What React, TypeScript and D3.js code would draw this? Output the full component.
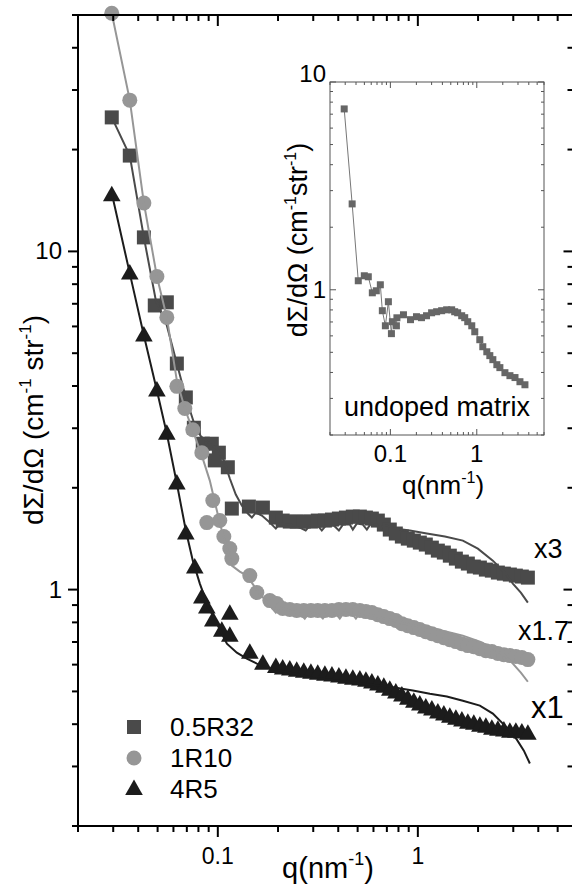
import React from 'react';
import * as d3 from 'd3';

const W = 572;
const H = 889;

// ---------- main plot data (q in nm^-1, dΣ/dΩ in cm^-1 str^-1, already scaled) ----------
const qLowA = [0.0295, 0.0363, 0.0427, 0.0484, 0.0556, 0.0624, 0.0692, 0.0759, 0.0841, 0.0933, 0.0966, 0.1012, 0.1122, 0.1175, 0.143, 0.168, 0.195];
const iLowA = [24.9, 19.2, 11.0, 6.92, 7.07, 4.66, 3.70, 3.01, 2.70, 2.70, 2.41, 2.54, 2.30, 1.736, 1.76, 1.748, 1.633];

const qLowB = [0.0295, 0.0363, 0.0427, 0.0496, 0.0556, 0.0624, 0.0684, 0.075, 0.0832, 0.0944, 0.0881, 0.1023, 0.1072, 0.1148, 0.1175, 0.1445, 0.1567, 0.182, 0.197];
const iLowB = [50.6, 28.0, 13.9, 8.43, 6.38, 3.99, 3.43, 2.97, 2.54, 1.834, 1.578, 1.60, 1.435, 1.322, 1.235, 1.10, 0.98, 0.928, 0.909];

const qLowC = [0.0295, 0.0363, 0.0427, 0.0496, 0.0556, 0.0624, 0.0692, 0.0767, 0.0832, 0.0881, 0.1148, 0.0944, 0.1047, 0.1148, 0.1445, 0.168, 0.195];
const iLowC = [14.65, 8.61, 5.64, 3.88, 2.89, 2.06, 1.465, 1.162, 0.947, 0.885, 0.849, 0.81, 0.756, 0.731, 0.651, 0.604, 0.59];

const qDense = [0.211, 0.229, 0.248, 0.269, 0.292, 0.316, 0.343, 0.372, 0.403, 0.437, 0.473, 0.513, 0.550, 0.589, 0.631, 0.676, 0.724, 0.776, 0.832, 0.891, 0.955, 1.023, 1.096, 1.175, 1.259, 1.349, 1.445, 1.549, 1.660, 1.778, 1.905, 2.042, 2.188, 2.344, 2.512, 2.692, 2.884, 3.090, 3.311, 3.548];
const iDenseA = [1.60, 1.589, 1.589, 1.589, 1.589, 1.60, 1.60, 1.611, 1.622, 1.633, 1.644, 1.644, 1.633, 1.622, 1.60, 1.557, 1.505, 1.465, 1.435, 1.415, 1.396, 1.377, 1.359, 1.331, 1.304, 1.287, 1.26, 1.235, 1.21, 1.194, 1.17, 1.162, 1.146, 1.138, 1.123, 1.115, 1.108, 1.10, 1.093, 1.085];
const iDenseB = [0.879, 0.873, 0.867, 0.867, 0.867, 0.867, 0.867, 0.867, 0.873, 0.873, 0.873, 0.867, 0.861, 0.855, 0.843, 0.832, 0.821, 0.810, 0.793, 0.782, 0.772, 0.762, 0.751, 0.741, 0.731, 0.721, 0.711, 0.702, 0.692, 0.683, 0.678, 0.669, 0.660, 0.656, 0.647, 0.642, 0.638, 0.634, 0.630, 0.621];
const iDenseC = [0.584, 0.580, 0.576, 0.572, 0.568, 0.564, 0.560, 0.557, 0.553, 0.549, 0.545, 0.542, 0.538, 0.531, 0.524, 0.516, 0.506, 0.496, 0.486, 0.476, 0.466, 0.457, 0.448, 0.442, 0.433, 0.427, 0.421, 0.415, 0.410, 0.404, 0.401, 0.396, 0.393, 0.388, 0.385, 0.383, 0.380, 0.380, 0.378, 0.375];

// fit curves
const qFitA = [0.0295, 0.0363, 0.0427, 0.049, 0.0556, 0.0624, 0.0692, 0.0759, 0.0822, 0.0912, 0.1, 0.1072, 0.1148, 0.123, 0.1318, 0.1413, 0.148, 0.155, 0.166, 0.182, 0.195, 0.204, 0.229, 0.257, 0.275, 0.288, 0.316, 0.331, 0.347, 0.38, 0.403, 0.422, 0.457, 0.473, 0.495, 0.531, 0.556, 0.582, 0.624, 0.646, 0.676, 0.767, 0.912, 1.109, 1.365, 1.679, 1.995, 2.371, 2.723, 2.985, 3.273, 3.548];
const iFitA = [24.9, 19.2, 11.0, 7.16, 6.04, 4.66, 3.70, 3.12, 2.84, 2.70, 2.595, 2.41, 2.13, 1.91, 1.772, 1.679, 1.633, 1.69, 1.656, 1.578, 1.515, 1.567, 1.557, 1.525, 1.495, 1.546, 1.546, 1.495, 1.546, 1.546, 1.495, 1.557, 1.557, 1.505, 1.567, 1.557, 1.505, 1.567, 1.557, 1.505, 1.557, 1.515, 1.495, 1.465, 1.435, 1.396, 1.322, 1.218, 1.123, 1.042, 0.98, 0.915];

const qFitB = [0.0295, 0.0363, 0.0427, 0.0496, 0.0556, 0.0624, 0.0684, 0.075, 0.0832, 0.0912, 0.0989, 0.1047, 0.1122, 0.1175, 0.1288, 0.1396, 0.1514, 0.162, 0.1738, 0.182, 0.195, 0.204, 0.229, 0.257, 0.272, 0.285, 0.316, 0.335, 0.351, 0.389, 0.407, 0.427, 0.468, 0.49, 0.513, 0.575, 0.684, 0.813, 0.966, 1.148, 1.396, 1.679, 2.042, 2.483, 2.723, 2.985, 3.273, 3.548];
const iFitB = [50.6, 28.0, 13.9, 8.43, 6.38, 4.15, 3.43, 2.95, 2.49, 2.10, 1.713, 1.495, 1.304, 1.178, 1.13, 1.10, 1.028, 0.973, 0.928, 0.897, 0.855, 0.885, 0.867, 0.849, 0.821, 0.855, 0.849, 0.821, 0.855, 0.849, 0.821, 0.855, 0.849, 0.821, 0.855, 0.843, 0.821, 0.799, 0.782, 0.772, 0.751, 0.731, 0.702, 0.660, 0.638, 0.604, 0.568, 0.534];

const qFitC = [0.0295, 0.0363, 0.0427, 0.0496, 0.0556, 0.0624, 0.0692, 0.075, 0.0813, 0.0891, 0.0989, 0.111, 0.1245, 0.1396, 0.1567, 0.1758, 0.229, 0.2985, 0.407, 0.531, 0.724, 0.944, 1.148, 1.396, 1.679, 2.042, 2.371, 2.723, 3.126, 3.388, 3.631];
const iFitC = [14.85, 8.61, 5.64, 3.88, 2.89, 2.06, 1.495, 1.218, 1.042, 0.897, 0.793, 0.692, 0.651, 0.625, 0.604, 0.588, 0.568, 0.549, 0.538, 0.527, 0.516, 0.503, 0.492, 0.483, 0.469, 0.454, 0.430, 0.396, 0.360, 0.334, 0.306];

// ---------- inset data (undoped matrix) ----------
const qInset = [0.0292, 0.0361, 0.0425, 0.0499, 0.0555, 0.0618, 0.0687, 0.0765, 0.0807, 0.0875, 0.0948, 0.1028, 0.1055, 0.1174, 0.119, 0.1417, 0.171, 0.2005, 0.229, 0.262, 0.30, 0.343, 0.392, 0.448, 0.512, 0.555, 0.601, 0.669, 0.725, 0.786, 0.875, 0.948, 1.084, 1.174, 1.307, 1.416, 1.535, 1.708, 1.851, 2.117, 2.42, 2.77, 3.16, 3.61];
const iInset = [7.42, 2.59, 1.105, 1.168, 1.155, 0.967, 0.989, 1.057, 0.793, 0.671, 0.876, 0.615, 0.702, 0.671, 0.733, 0.758, 0.718, 0.742, 0.734, 0.750, 0.775, 0.784, 0.793, 0.801, 0.801, 0.784, 0.775, 0.750, 0.734, 0.702, 0.671, 0.628, 0.575, 0.532, 0.503, 0.482, 0.461, 0.436, 0.422, 0.399, 0.386, 0.378, 0.361, 0.349];

const seriesNames = ['0.5R32', '1R10', '4R5'];
const seriesColors = ['#4a4a4a', '#969696', '#1c1c1c'];
const scaleLabels = ['x3', 'x1.7', 'x1'];

const FONT = "'Liberation Sans', Arial, Helvetica, sans-serif";

function zip(q: number[], v: number[]) {
  return q.map((d, i) => [d, v[i]] as [number, number]);
}

const triPath = 'M0,-9.5L8.8,6L-8.8,6Z';

function Marker({ kind, cx, cy, color }: { kind: number; cx: number; cy: number; color: string }) {
  if (kind === 0) return <rect x={cx - 7} y={cy - 7} width={14} height={14} fill={color} />;
  if (kind === 1) return <circle cx={cx} cy={cy} r={7.5} fill={color} />;
  return <path d={triPath} transform={`translate(${cx},${cy})`} fill={color} />;
}

function isMajor(v: number) {
  const l = Math.log10(v);
  return Math.abs(l - Math.round(l)) < 1e-6;
}

export default function App() {
  // main scales
  const x = d3.scaleLog().domain([0.02, 6]).range([78, 573.5]);
  const y = d3.scaleLog().domain([0.2, 50]).range([826, 15]);
  const [x0, x1] = x.range();
  const [y0, y1] = y.range();

  // inset scales
  const xi = d3.scaleLog().domain([0.02, 6]).range([330, 544]);
  const yi = d3.scaleLog().domain([0.2, 10]).range([435, 82]);
  const [xi0, xi1] = xi.range();
  const [yi0, yi1] = yi.range();

  const line = d3.line<[number, number]>().x((d) => x(d[0])).y((d) => y(d[1]));
  const lineI = d3.line<[number, number]>().x((d) => xi(d[0])).y((d) => yi(d[1]));

  const pts = [
    [...zip(qLowA, iLowA), ...zip(qDense, iDenseA)],
    [...zip(qLowB, iLowB), ...zip(qDense, iDenseB)],
    [...zip(qLowC, iLowC), ...zip(qDense, iDenseC)],
  ];
  const fits = [zip(qFitA, iFitA), zip(qFitB, iFitB), zip(qFitC, iFitC)];

  const xt = x.ticks();
  const yt = y.ticks();
  const xti = xi.ticks();
  const yti = yi.ticks();

  const fmt = (v: number) => (v >= 1 ? String(Math.round(v)) : String(v));

  return (
    <svg width={W} height={H} style={{ position: 'absolute', left: 0, top: 0, background: '#fff' }} fontFamily={FONT}>
      <rect width={W} height={H} fill="#fff" />

      {/* series */}
      {pts.map((p, s) => (
        <g key={s}>
          {p.map((d, i) => (
            <Marker key={i} kind={s} cx={x(d[0])} cy={y(d[1])} color={seriesColors[s]} />
          ))}
          <path d={line(fits[s]) || ''} fill="none" stroke={seriesColors[s]} strokeWidth={2} />
        </g>
      ))}

      {/* main axes */}
      <g stroke="#000" strokeWidth={2} fill="none">
        <line x1={x0} x2={x1} y1={y0} y2={y0} />
        <line x1={x0} x2={x1} y1={y1} y2={y1} />
        <line x1={x0} x2={x0} y1={y0} y2={y1} />
        <line x1={x1} x2={x1} y1={y0} y2={y1} />
        {xt.map((t, i) => {
          const L = isMajor(t) ? 11 : 6;
          return (
            <g key={i}>
              <line x1={x(t)} x2={x(t)} y1={y0} y2={y0 + L} />
              <line x1={x(t)} x2={x(t)} y1={y1} y2={y1 + L} />
            </g>
          );
        })}
        {yt.map((t, i) => {
          const L = isMajor(t) ? 10 : 6;
          return (
            <g key={i}>
              <line x1={x0} x2={x0 - L} y1={y(t)} y2={y(t)} />
              <line x1={x1} x2={x1 - L} y1={y(t)} y2={y(t)} />
            </g>
          );
        })}
      </g>
      <g fontSize={23} fill="#000">
        {xt.filter(isMajor).map((t, i) => (
          <text key={i} x={x(t)} y={864} textAnchor="middle">{fmt(t)}</text>
        ))}
        {yt.filter(isMajor).map((t, i) => (
          <text key={i} x={62} y={y(t) + 8} textAnchor="end" fontSize={24}>{fmt(t)}</text>
        ))}
      </g>
      <text x={328} y={878} fontSize={29} textAnchor="middle">
        q(nm<tspan fontSize={18} dy={-13}>-1</tspan><tspan dy={13}>)</tspan>
      </text>
      <text transform="translate(43,420) rotate(-90)" fontSize={28} textAnchor="middle">
        dΣ/dΩ (cm<tspan fontSize={17} dy={-12}>-1</tspan><tspan dy={12}> str</tspan><tspan fontSize={17} dy={-12}>-1</tspan><tspan dy={12}>)</tspan>
      </text>

      {/* scale labels */}
      <text x={534} y={558} fontSize={27}>{scaleLabels[0]}</text>
      <text x={518} y={640} fontSize={27}>{scaleLabels[1]}</text>
      <text x={531} y={718} fontSize={31}>{scaleLabels[2]}</text>

      {/* legend */}
      {seriesNames.map((n, i) => (
        <g key={i}>
          <Marker kind={i} cx={134} cy={727 + i * 31} color={seriesColors[i]} />
          <text x={170} y={736 + i * 31} fontSize={26}>{n}</text>
        </g>
      ))}

      {/* inset */}
      <rect x={xi0} y={yi1} width={xi1 - xi0} height={yi0 - yi1} fill="#fff" />
      <path d={lineI(zip(qInset, iInset)) || ''} fill="none" stroke="#777" strokeWidth={1} />
      {qInset.map((q, i) => (
        <rect key={i} x={xi(q) - 3.5} y={yi(iInset[i]) - 3.5} width={7} height={7} fill="#666" />
      ))}
      <g stroke="#555" strokeWidth={1} fill="none">
        <rect x={xi0} y={yi1} width={xi1 - xi0} height={yi0 - yi1} />
        {xti.map((t, i) => {
          const L = isMajor(t) ? 6 : 3;
          return (
            <g key={i}>
              <line x1={xi(t)} x2={xi(t)} y1={yi0} y2={yi0 - L} />
              <line x1={xi(t)} x2={xi(t)} y1={yi1} y2={yi1 + L} />
            </g>
          );
        })}
        {yti.map((t, i) => {
          const L = isMajor(t) ? 6 : 3;
          return (
            <g key={i}>
              <line x1={xi0} x2={xi0 + L} y1={yi(t)} y2={yi(t)} />
              <line x1={xi1} x2={xi1 - L} y1={yi(t)} y2={yi(t)} />
            </g>
          );
        })}
      </g>
      <g fontSize={24} fill="#000">
        {xti.filter(isMajor).map((t, i) => (
          <text key={i} x={xi(t)} y={462} textAnchor="middle">{fmt(t)}</text>
        ))}
        {yti.filter(isMajor).map((t, i) => (
          <text key={i} x={326} y={yi(t) + (yi(t) < 100 ? 0 : 8)} textAnchor="end">{fmt(t)}</text>
        ))}
      </g>
      <text x={443} y={494} fontSize={26} textAnchor="middle">
        q(nm<tspan fontSize={16} dy={-11}>-1</tspan><tspan dy={11}>)</tspan>
      </text>
      <text transform="translate(307,240) rotate(-90)" fontSize={27} textAnchor="middle">
        dΣ/dΩ (cm<tspan fontSize={16} dy={-11}>-1</tspan><tspan dy={11}>str</tspan><tspan fontSize={16} dy={-11}>-1</tspan><tspan dy={11}>)</tspan>
      </text>
      <text x={437} y={416} fontSize={27} textAnchor="middle">undoped matrix</text>
    </svg>
  );
}
